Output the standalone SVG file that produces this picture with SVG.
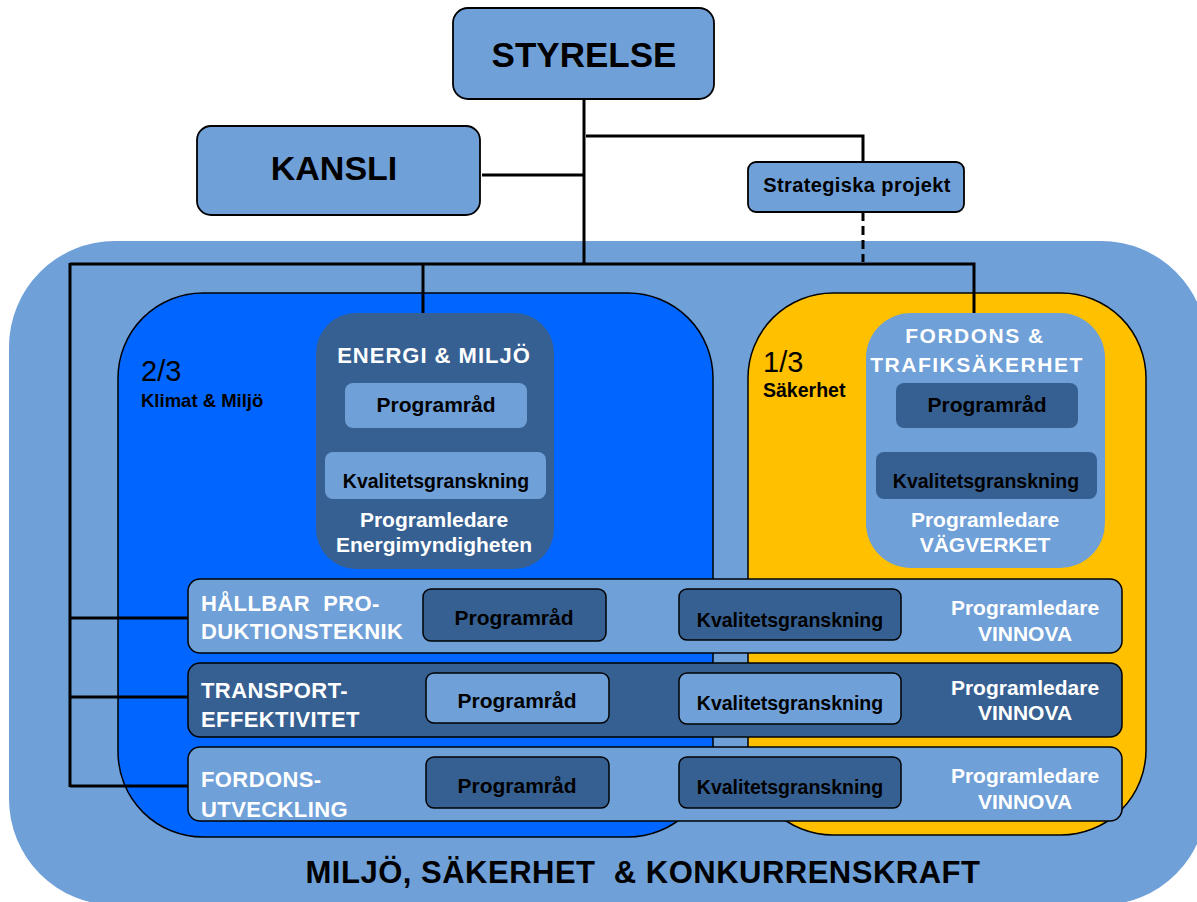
<svg xmlns="http://www.w3.org/2000/svg" width="1197" height="902" viewBox="0 0 1197 902">
<style>
text{font-family:"Liberation Sans",Arial,sans-serif;font-weight:bold}
.lt{fill:#6FA0D8}
.dk{fill:#376092}
.bd{stroke:#000;stroke-width:1.8}
.thin{stroke:#000;stroke-width:1.5}
.w{fill:#fff}
.b{fill:#000}
.c{text-anchor:middle}
.ln{stroke:#000;stroke-width:3;fill:none}
.pr{font-size:21px}
.kv{font-size:19.5px}
.pl{font-size:21px;fill:#fff;text-anchor:middle}
.rt{font-size:22px;fill:#fff;letter-spacing:0.4px}
</style>
<rect id="outer" x="9" y="241" width="1198" height="664" rx="106" class="lt"/>
<g id="klimat">
<rect x="118" y="293" width="595" height="544" rx="85" fill="#0066FF" class="thin"/>
<text x="141" y="381" style="font-weight:normal;font-size:29px" class="b">2/3</text>
<text x="141" y="407" style="font-size:18.5px" class="b">Klimat &amp; Miljö</text>
</g>
<g id="sakerhet">
<rect x="748" y="293" width="398" height="542" rx="85" fill="#FFC000" class="thin"/>
<text x="763" y="372" style="font-weight:normal;font-size:29px" class="b">1/3</text>
<text x="763" y="397" style="font-size:19.5px" class="b">Säkerhet</text>
</g>
<g id="connectors">
<line x1="584" y1="99" x2="584" y2="264" class="ln"/>
<line x1="482" y1="175" x2="584" y2="175" class="ln"/>
<polyline points="586,136 863,136 863,162" class="ln"/>
<line x1="863" y1="212" x2="863" y2="262" class="ln" stroke-dasharray="9,5"/>
<polyline points="70,264 974,264 974,313" class="ln"/>
<line x1="423" y1="264" x2="423" y2="313" class="ln"/>
<line x1="70" y1="263" x2="70" y2="787" class="ln"/>
<line x1="70" y1="618" x2="188" y2="618" class="ln"/>
<line x1="70" y1="697" x2="188" y2="697" class="ln"/>
<line x1="70" y1="786" x2="188" y2="786" class="ln"/>
</g>
<g id="styrelse">
<rect x="453" y="8" width="261" height="91" rx="15" class="lt bd"/>
<text x="584" y="67" class="b c" style="font-size:35px">STYRELSE</text>
</g>
<g id="kansli">
<rect x="197" y="126" width="283" height="89" rx="14" class="lt bd"/>
<text x="334" y="180" class="b c" style="font-size:34px">KANSLI</text>
</g>
<g id="strategiska">
<rect x="748" y="162" width="216" height="50" rx="8" class="lt bd"/>
<text x="857" y="192" class="b c" style="font-size:20px;letter-spacing:0.4px">Strategiska projekt</text>
</g>
<g id="energi">
<rect x="316" y="313" width="238" height="256" rx="40" class="dk"/>
<text x="434" y="363" class="w c" style="font-size:22px;letter-spacing:1px">ENERGI &amp; MILJÖ</text>
<rect x="345" y="383" width="182" height="45" rx="8" class="lt"/>
<text x="436" y="412" class="b c pr">Programråd</text>
<rect x="325" y="452" width="221" height="47" rx="8" class="lt"/>
<text x="436" y="488" class="b c kv">Kvalitetsgranskning</text>
<text x="434" y="527" class="pl">Programledare</text>
<text x="434" y="552" class="pl">Energimyndigheten</text>
</g>
<g id="fordons-trafik">
<rect x="866" y="313" width="239" height="255" rx="45" class="lt"/>
<text x="975" y="343" class="w c" style="font-size:21px;letter-spacing:1.5px">FORDONS  &amp;</text>
<text x="977" y="372" class="w c" style="font-size:21px;letter-spacing:1.5px">TRAFIKSÄKERHET</text>
<rect x="896" y="383" width="182" height="45" rx="8" class="dk"/>
<text x="987" y="412" class="b c pr">Programråd</text>
<rect x="876" y="452" width="221" height="47" rx="8" class="dk"/>
<text x="986" y="488" class="b c kv">Kvalitetsgranskning</text>
<text x="985" y="527" class="pl">Programledare</text>
<text x="985" y="552" class="pl">VÄGVERKET</text>
</g>
<g id="hallbar">
<rect x="188" y="579" width="934" height="74" rx="12" class="lt thin"/>
<text x="201" y="611" class="rt" xml:space="preserve">HÅLLBAR  PRO-</text>
<text x="201" y="639" class="rt">DUKTIONSTEKNIK</text>
<rect x="423" y="589" width="183" height="52" rx="8" class="dk thin"/>
<text x="514" y="625" class="b c pr">Programråd</text>
<rect x="679" y="589" width="222" height="51" rx="8" class="dk thin"/>
<text x="790" y="627" class="b c kv">Kvalitetsgranskning</text>
<text x="1025" y="615" class="pl">Programledare</text>
<text x="1025" y="641" class="pl">VINNOVA</text>
</g>
<g id="transport">
<rect x="188" y="663" width="934" height="74" rx="12" class="dk thin"/>
<text x="201" y="698" class="rt">TRANSPORT-</text>
<text x="201" y="727" class="rt">EFFEKTIVITET</text>
<rect x="426" y="673" width="183" height="50" rx="8" class="lt thin"/>
<text x="517" y="708" class="b c pr">Programråd</text>
<rect x="679" y="673" width="222" height="51" rx="8" class="lt thin"/>
<text x="790" y="710" class="b c kv">Kvalitetsgranskning</text>
<text x="1025" y="695" class="pl">Programledare</text>
<text x="1025" y="720" class="pl">VINNOVA</text>
</g>
<g id="fordonsutveckling">
<rect x="188" y="747" width="934" height="74" rx="12" class="lt thin"/>
<text x="201" y="787" class="rt">FORDONS-</text>
<text x="201" y="817" class="rt">UTVECKLING</text>
<rect x="426" y="757" width="183" height="51" rx="8" class="dk thin"/>
<text x="517" y="793" class="b c pr">Programråd</text>
<rect x="679" y="757" width="222" height="51" rx="8" class="dk thin"/>
<text x="790" y="794" class="b c kv">Kvalitetsgranskning</text>
<text x="1025" y="783" class="pl">Programledare</text>
<text x="1025" y="809" class="pl">VINNOVA</text>
</g>
<text x="643" y="883" class="b c" style="font-size:31px;letter-spacing:0.5px" xml:space="preserve">MILJÖ, SÄKERHET  &amp; KONKURRENSKRAFT</text>
</svg>
